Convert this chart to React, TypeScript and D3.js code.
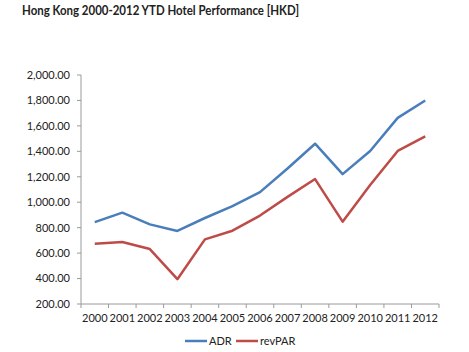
import React from "react";
import * as d3 from "d3";

const years = ["2000","2001","2002","2003","2004","2005","2006","2007","2008","2009","2010","2011","2012"];
const adr = [844, 918, 826, 774, 876, 970, 1079, 1265, 1460, 1221, 1403, 1663, 1800];
const revpar = [674, 687, 632, 395, 708, 776, 895, 1042, 1182, 847, 1135, 1403, 1517];
const yTicks = [200, 400, 600, 800, 1000, 1200, 1400, 1600, 1800, 2000];
const seriesNames = ["ADR", "revPAR"];
const colors = ["#4a7ebb", "#be4b48"];

export default function App() {
  const W = 469, H = 352;
  const left = 81, right = 439, top = 75, bottom = 304;
  const x = d3.scaleBand<string>().domain(years).range([left, right]);
  const y = d3.scaleLinear().domain([200, 2000]).range([bottom, top]);
  const line = d3.line<number>()
    .x((_, i) => (x(years[i]) as number) + x.bandwidth() / 2)
    .y((d) => y(d));
  const fmt = d3.format(",.2f");
  const font = "Lato, 'Open Sans', sans-serif";
  const series = [adr, revpar];
  const boundaries = years.map((yr) => x(yr) as number).concat([right]);
  const legendX = [185, 236];
  return (
    <svg width={W} height={H} style={{ position: "absolute", left: 0, top: 0, background: "#fff" }}>
      <text x={22} y={15} fontFamily={font} fontWeight="bold" fontSize={12.5} fill="#222"
        textLength={277} lengthAdjust="spacingAndGlyphs">
        Hong Kong 2000-2012 YTD Hotel Performance [HKD]
      </text>
      <line x1={left} x2={left} y1={top} y2={bottom} stroke="#9a9a9a" />
      {yTicks.map((t) => (
        <g key={t}>
          <line x1={left - 4} x2={left} y1={y(t)} y2={y(t)} stroke="#9a9a9a" />
          <text x={70} y={y(t)} dy="0.35em" textAnchor="end" fontFamily={font} fontSize={11} fill="#222">
            {fmt(t)}
          </text>
        </g>
      ))}
      <line x1={left} x2={right} y1={bottom} y2={bottom} stroke="#9a9a9a" />
      {boundaries.map((b, i) => (
        <line key={i} x1={b} x2={b} y1={bottom} y2={bottom + 4} stroke="#9a9a9a" />
      ))}
      {years.map((yr) => (
        <text key={yr} x={(x(yr) as number) + x.bandwidth() / 2} y={318} dy="0.35em" textAnchor="middle" fontFamily={font} fontSize={11} fill="#222">
          {yr}
        </text>
      ))}
      {series.map((s, i) => (
        <path key={i} d={line(s) || ""} fill="none" stroke={colors[i]} strokeWidth={2.5} strokeLinejoin="round" />
      ))}
      {seriesNames.map((n, i) => (
        <g key={n}>
          <line x1={legendX[i]} x2={legendX[i] + 22} y1={341} y2={341} stroke={colors[i]} strokeWidth={2.5} />
          <text x={legendX[i] + 24} y={341} dy="0.35em" fontFamily={font} fontSize={11} fill="#222">{n}</text>
        </g>
      ))}
    </svg>
  );
}
